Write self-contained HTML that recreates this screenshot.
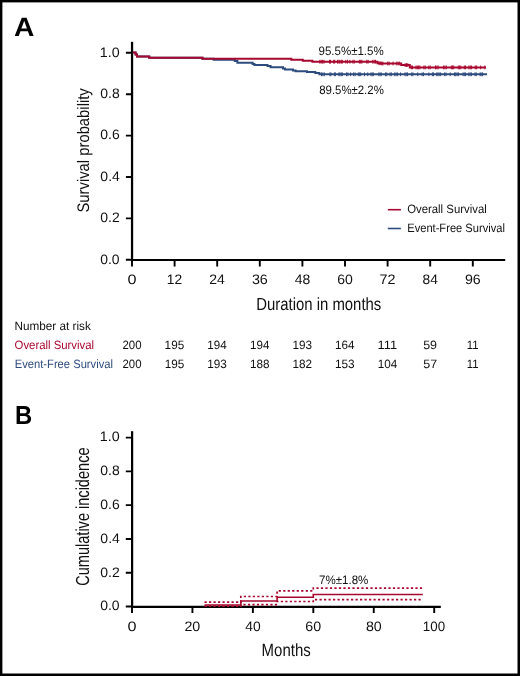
<!DOCTYPE html><html><head><meta charset="utf-8"><style>html,body{margin:0;padding:0;background:#fff;overflow:hidden;}svg{display:block;will-change:transform;}text{font-family:"Liberation Sans",sans-serif;text-rendering:geometricPrecision;}</style></head><body>
<svg width="520" height="676" viewBox="0 0 520 676">
<rect x="0" y="0" width="520" height="676" fill="#000"/>
<rect x="2.4" y="2.4" width="515.10" height="671.10" fill="#fff"/>
<path d="M132.05,41.8V260.8" stroke="#000" stroke-width="2.25" fill="none"/>
<path d="M130.95,260.0H505.2" stroke="#000" stroke-width="2.1" fill="none"/>
<path d="M125.9,259.80H132.0M125.9,218.40H132.0M125.9,177.00H132.0M125.9,135.60H132.0M125.9,94.20H132.0M125.9,52.80H132.0M132.00,260.0V266.4M174.60,260.0V266.4M217.20,260.0V266.4M259.80,260.0V266.4M302.40,260.0V266.4M345.00,260.0V266.4M387.60,260.0V266.4M430.20,260.0V266.4M472.80,260.0V266.4" stroke="#000" stroke-width="1.9" fill="none"/>
<path d="M132.1,431.2V607.8" stroke="#000" stroke-width="2.25" fill="none"/>
<path d="M130.95,606.85H440.8" stroke="#000" stroke-width="2.1" fill="none"/>
<path d="M125.8,606.50H132.0M125.8,572.72H132.0M125.8,538.94H132.0M125.8,505.16H132.0M125.8,471.38H132.0M125.8,437.60H132.0M132.00,606.85V612.9M192.44,606.85V612.9M252.88,606.85V612.9M313.32,606.85V612.9M373.76,606.85V612.9M434.20,606.85V612.9" stroke="#000" stroke-width="1.9" fill="none"/>
<path d="M132.8,52.60 H135.6 V54.50 H137.0 V56.40 H149.2 V57.75 H202.5 V58.80 H213.6 V59.80 H234.8 V61.00 H237.4 V62.80 H252.6 V63.90 H254.4 V64.90 H267.5 V66.00 H270.6 V67.20 H283.0 V68.40 H285.0 V69.50 H293.0 V70.60 H295.6 V71.30 H306.9 V72.00 H315.3 V73.00 H319.4 V74.30 H487.0" stroke="#2e4b7e" stroke-width="2.0" fill="none"/>
<path d="M321.5,72.4V76.2M322.9,72.4V76.2M324.3,72.4V76.2M329.9,72.4V76.2M330.9,72.4V76.2M334.4,72.4V76.2M335.4,72.4V76.2M338.9,72.4V76.2M339.9,72.4V76.2M341.3,72.4V76.2M342.3,72.4V76.2M346.5,72.4V76.2M347.9,72.4V76.2M350.6,72.4V76.2M353.6,72.4V76.2M355.1,72.4V76.2M358.3,72.4V76.2M359.4,72.4V76.2M360.7,72.4V76.2M364.5,72.4V76.2M367.7,72.4V76.2M371.0,72.4V76.2M372.2,72.4V76.2M373.3,72.4V76.2M378.8,72.4V76.2M380.1,72.4V76.2M381.2,72.4V76.2M385.5,72.4V76.2M386.8,72.4V76.2M390.0,72.4V76.2M391.3,72.4V76.2M394.7,72.4V76.2M396.1,72.4V76.2M397.4,72.4V76.2M400.6,72.4V76.2M405.0,72.4V76.2M406.2,72.4V76.2M407.5,72.4V76.2M411.7,72.4V76.2M412.9,72.4V76.2M417.7,72.4V76.2M422.1,72.4V76.2M423.5,72.4V76.2M428.9,72.4V76.2M432.4,72.4V76.2M433.5,72.4V76.2M436.7,72.4V76.2M437.9,72.4V76.2M439.2,72.4V76.2M440.6,72.4V76.2M444.6,72.4V76.2M446.0,72.4V76.2M450.2,72.4V76.2M454.6,72.4V76.2M455.7,72.4V76.2M457.1,72.4V76.2M458.4,72.4V76.2M463.1,72.4V76.2M464.3,72.4V76.2M465.6,72.4V76.2M468.8,72.4V76.2M470.1,72.4V76.2M471.4,72.4V76.2M475.0,72.4V76.2M476.2,72.4V76.2M480.1,72.4V76.2M481.2,72.4V76.2M482.5,72.4V76.2" stroke="#2e4b7e" stroke-width="1.0" fill="none"/>
<path d="M132.8,52.60 H135.6 V54.50 H137.0 V56.40 H149.2 V57.75 H202.5 V58.80 H291.3 V59.80 H302.8 V60.80 H312.4 V61.70 H377.4 V63.20 H380.5 V63.50 H401.2 V65.10 H409.8 V67.40 H486.0" stroke="#a8082f" stroke-width="2.0" fill="none"/>
<path d="M319.8,59.8V63.6M321.2,59.8V63.6M322.6,59.8V63.6M324.0,59.8V63.6M329.5,59.8V63.6M330.5,59.8V63.6M333.7,59.8V63.6M334.7,59.8V63.6M337.5,59.8V63.6M338.9,59.8V63.6M339.9,59.8V63.6M341.3,59.8V63.6M342.3,59.8V63.6M345.8,59.8V63.6M347.5,59.8V63.6M349.9,59.8V63.6M352.9,59.8V63.6M354.2,59.8V63.6M359.4,59.8V63.6M360.7,59.8V63.6M361.9,59.8V63.6M366.8,59.8V63.6M368.1,59.8V63.6M372.8,59.8V63.6M374.2,59.8V63.6M375.5,59.8V63.6M379.0,61.3V65.1M380.2,61.3V65.1M381.7,61.6V65.4M382.9,61.6V65.4M387.7,61.6V65.4M389.1,61.6V65.4M393.0,61.6V65.4M396.8,61.6V65.4M398.2,61.6V65.4M399.7,61.6V65.4M405.1,63.2V67.0M406.5,63.2V67.0M407.8,63.2V67.0M411.4,65.5V69.3M412.5,65.5V69.3M416.0,65.5V69.3M417.3,65.5V69.3M418.6,65.5V69.3M419.9,65.5V69.3M423.9,65.5V69.3M425.2,65.5V69.3M428.8,65.5V69.3M430.2,65.5V69.3M435.5,65.5V69.3M436.9,65.5V69.3M438.1,65.5V69.3M443.6,65.5V69.3M444.9,65.5V69.3M446.3,65.5V69.3M451.3,65.5V69.3M452.5,65.5V69.3M453.7,65.5V69.3M458.3,65.5V69.3M459.4,65.5V69.3M460.8,65.5V69.3M464.3,65.5V69.3M465.5,65.5V69.3M468.9,65.5V69.3M470.2,65.5V69.3M471.4,65.5V69.3M475.3,65.5V69.3M476.6,65.5V69.3M480.7,65.5V69.3M484.9,65.5V69.3" stroke="#a8082f" stroke-width="1.0" fill="none"/>
<path d="M387.8,209.7H400.9" stroke="#a8082f" stroke-width="1.6"/>
<path d="M387.8,228.5H400.9" stroke="#2e4b7e" stroke-width="1.6"/>
<path d="M204.5,602.2H240.8V596.5H277.1V590.9H313.3V588.1H422.8" stroke="#a8082f" stroke-width="1.7" fill="none" stroke-dasharray="2.2 2.3"/>
<path d="M204.5,606.2H240.8V604.6H277.1V601.5H313.3V599.7H422.8" stroke="#a8082f" stroke-width="1.7" fill="none" stroke-dasharray="2.2 2.3"/>
<path d="M204.5,605.0H240.8V601.0H277.1V597.2H313.3V594.5H422.8" stroke="#a8082f" stroke-width="1.6" fill="none"/>
<text id="A" x="14.13" y="35.72" font-size="26.40" font-weight="bold" fill="#000" textLength="20.37" lengthAdjust="spacingAndGlyphs">A</text>
<text id="B" x="14.95" y="423.60" font-size="26.03" font-weight="bold" fill="#000" textLength="17.20" lengthAdjust="spacingAndGlyphs">B</text>
<text id="ay0" x="100.16" y="263.99" font-size="13.76" fill="#111" textLength="19.41" lengthAdjust="spacingAndGlyphs">0.0</text>
<text id="ay1" x="100.28" y="221.73" font-size="13.76" fill="#111" textLength="19.50" lengthAdjust="spacingAndGlyphs">0.2</text>
<text id="ay2" x="100.39" y="180.56" font-size="13.76" fill="#111" textLength="19.49" lengthAdjust="spacingAndGlyphs">0.4</text>
<text id="ay3" x="100.34" y="138.97" font-size="13.76" fill="#111" textLength="19.45" lengthAdjust="spacingAndGlyphs">0.6</text>
<text id="ay4" x="100.24" y="98.30" font-size="13.76" fill="#111" textLength="19.42" lengthAdjust="spacingAndGlyphs">0.8</text>
<text id="ay5" x="99.81" y="56.60" font-size="13.76" fill="#111" textLength="19.83" lengthAdjust="spacingAndGlyphs">1.0</text>
<text id="by0" x="100.21" y="610.37" font-size="13.76" fill="#111" textLength="19.45" lengthAdjust="spacingAndGlyphs">0.0</text>
<text id="by1" x="100.22" y="576.52" font-size="13.76" fill="#111" textLength="19.52" lengthAdjust="spacingAndGlyphs">0.2</text>
<text id="by2" x="100.39" y="543.19" font-size="13.76" fill="#111" textLength="19.49" lengthAdjust="spacingAndGlyphs">0.4</text>
<text id="by3" x="100.34" y="509.00" font-size="13.76" fill="#111" textLength="19.45" lengthAdjust="spacingAndGlyphs">0.6</text>
<text id="by4" x="100.24" y="475.28" font-size="13.76" fill="#111" textLength="19.42" lengthAdjust="spacingAndGlyphs">0.8</text>
<text id="by5" x="99.88" y="441.35" font-size="13.76" fill="#111" textLength="19.88" lengthAdjust="spacingAndGlyphs">1.0</text>
<text id="ax0" x="127.46" y="283.83" font-size="13.76" fill="#111" textLength="9.02" lengthAdjust="spacingAndGlyphs">0</text>
<text id="ax1" x="166.75" y="284.34" font-size="13.76" fill="#111" textLength="15.34" lengthAdjust="spacingAndGlyphs">12</text>
<text id="ax2" x="209.31" y="284.37" font-size="13.76" fill="#111" textLength="15.59" lengthAdjust="spacingAndGlyphs">24</text>
<text id="ax3" x="251.90" y="283.58" font-size="13.76" fill="#111" textLength="15.97" lengthAdjust="spacingAndGlyphs">36</text>
<text id="ax4" x="294.77" y="284.06" font-size="13.76" fill="#111" textLength="15.54" lengthAdjust="spacingAndGlyphs">48</text>
<text id="ax5" x="337.32" y="284.08" font-size="13.76" fill="#111" textLength="15.60" lengthAdjust="spacingAndGlyphs">60</text>
<text id="ax6" x="379.61" y="284.26" font-size="13.76" fill="#111" textLength="15.99" lengthAdjust="spacingAndGlyphs">72</text>
<text id="ax7" x="422.47" y="283.97" font-size="13.76" fill="#111" textLength="15.34" lengthAdjust="spacingAndGlyphs">84</text>
<text id="ax8" x="464.98" y="283.84" font-size="13.76" fill="#111" textLength="15.79" lengthAdjust="spacingAndGlyphs">96</text>
<text id="bx0" x="127.46" y="630.69" font-size="13.76" fill="#111" textLength="9.02" lengthAdjust="spacingAndGlyphs">0</text>
<text id="bx1" x="184.42" y="631.05" font-size="13.76" fill="#111" textLength="15.88" lengthAdjust="spacingAndGlyphs">20</text>
<text id="bx2" x="245.20" y="631.08" font-size="13.76" fill="#111" textLength="15.43" lengthAdjust="spacingAndGlyphs">40</text>
<text id="bx3" x="305.31" y="631.01" font-size="13.76" fill="#111" textLength="15.87" lengthAdjust="spacingAndGlyphs">60</text>
<text id="bx4" x="365.90" y="631.05" font-size="13.76" fill="#111" textLength="15.81" lengthAdjust="spacingAndGlyphs">80</text>
<text id="bx5" x="422.84" y="631.04" font-size="13.76" fill="#111" textLength="22.27" lengthAdjust="spacingAndGlyphs">100</text>
<text id="xlabA" x="256.21" y="310.00" font-size="17.62" fill="#111" textLength="125.09" lengthAdjust="spacingAndGlyphs">Duration in months</text>
<text id="xlabB" x="261.62" y="655.82" font-size="17.78" fill="#111" textLength="49.11" lengthAdjust="spacingAndGlyphs">Months</text>
<text id="ylabA" transform="translate(88.79,212.55) rotate(-90)" font-size="16.69" fill="#111" textLength="124.29" lengthAdjust="spacingAndGlyphs">Survival probability</text>
<text id="ylabB" transform="translate(89.45,585.82) rotate(-90)" font-size="18.84" fill="#111" textLength="138.35" lengthAdjust="spacingAndGlyphs">Cumulative incidence</text>
<text id="os" x="318.53" y="55.49" font-size="12.19" fill="#111" textLength="65.15" lengthAdjust="spacingAndGlyphs">95.5%±1.5%</text>
<text id="efs" x="319.21" y="94.08" font-size="12.19" fill="#111" textLength="64.57" lengthAdjust="spacingAndGlyphs">89.5%±2.2%</text>
<text id="ci" x="319.06" y="583.88" font-size="12.19" fill="#111" textLength="49.24" lengthAdjust="spacingAndGlyphs">7%±1.8%</text>
<text id="legOS" x="407.13" y="213.30" font-size="12.09" fill="#111" textLength="79.62" lengthAdjust="spacingAndGlyphs">Overall Survival</text>
<text id="legEFS" x="407.23" y="231.76" font-size="12.09" fill="#111" textLength="97.70" lengthAdjust="spacingAndGlyphs">Event-Free Survival</text>
<text id="nar" x="14.47" y="330.37" font-size="12.09" fill="#111" textLength="76.29" lengthAdjust="spacingAndGlyphs">Number at risk</text>
<text id="rOS" x="14.57" y="348.95" font-size="12.09" fill="#a8082f" textLength="79.54" lengthAdjust="spacingAndGlyphs">Overall Survival</text>
<text id="rEFS" x="14.75" y="367.78" font-size="12.09" fill="#2e4b7e" textLength="98.20" lengthAdjust="spacingAndGlyphs">Event-Free Survival</text>
<text id="n0_0" x="122.43" y="349.02" font-size="12.05" fill="#111" textLength="19.08" lengthAdjust="spacingAndGlyphs">200</text>
<text id="n1_0" x="122.54" y="368.18" font-size="12.05" fill="#111" textLength="18.99" lengthAdjust="spacingAndGlyphs">200</text>
<text id="n0_1" x="164.62" y="349.23" font-size="12.05" fill="#111" textLength="19.57" lengthAdjust="spacingAndGlyphs">195</text>
<text id="n1_1" x="164.69" y="368.21" font-size="12.05" fill="#111" textLength="19.59" lengthAdjust="spacingAndGlyphs">195</text>
<text id="n0_2" x="207.21" y="349.47" font-size="12.05" fill="#111" textLength="19.43" lengthAdjust="spacingAndGlyphs">194</text>
<text id="n1_2" x="207.20" y="367.52" font-size="12.05" fill="#111" textLength="19.60" lengthAdjust="spacingAndGlyphs">193</text>
<text id="n0_3" x="250.04" y="349.35" font-size="12.05" fill="#111" textLength="19.37" lengthAdjust="spacingAndGlyphs">194</text>
<text id="n1_3" x="249.96" y="367.62" font-size="12.05" fill="#111" textLength="19.53" lengthAdjust="spacingAndGlyphs">188</text>
<text id="n0_4" x="292.52" y="348.99" font-size="12.05" fill="#111" textLength="19.58" lengthAdjust="spacingAndGlyphs">193</text>
<text id="n1_4" x="292.39" y="367.94" font-size="12.05" fill="#111" textLength="19.58" lengthAdjust="spacingAndGlyphs">182</text>
<text id="n0_5" x="335.11" y="349.36" font-size="12.05" fill="#111" textLength="19.45" lengthAdjust="spacingAndGlyphs">164</text>
<text id="n1_5" x="334.99" y="368.29" font-size="12.05" fill="#111" textLength="19.72" lengthAdjust="spacingAndGlyphs">153</text>
<text id="n0_6" x="377.57" y="349.11" font-size="12.05" fill="#111" textLength="19.59" lengthAdjust="spacingAndGlyphs">111</text>
<text id="n1_6" x="377.76" y="367.68" font-size="12.05" fill="#111" textLength="19.49" lengthAdjust="spacingAndGlyphs">104</text>
<text id="n0_7" x="423.17" y="349.24" font-size="12.05" fill="#111" textLength="13.86" lengthAdjust="spacingAndGlyphs">59</text>
<text id="n1_7" x="423.24" y="368.04" font-size="12.05" fill="#111" textLength="13.91" lengthAdjust="spacingAndGlyphs">57</text>
<text id="n0_8" x="466.86" y="349.06" font-size="12.05" fill="#111" textLength="11.83" lengthAdjust="spacingAndGlyphs">11</text>
<text id="n1_8" x="466.83" y="367.92" font-size="12.05" fill="#111" textLength="11.83" lengthAdjust="spacingAndGlyphs">11</text>
</svg></body></html>
